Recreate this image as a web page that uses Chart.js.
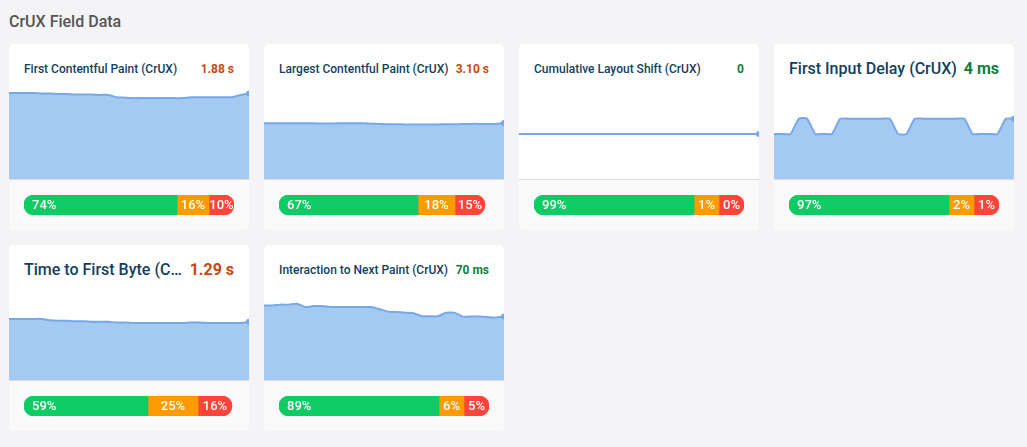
<!DOCTYPE html>
<html lang="en">
<head>
    <meta charset="UTF-8">
    <title>CrUX Field Data</title>
    <script src="https://cdn.jsdelivr.net/npm/chart.js"></script>
    <style>
        html, body { margin: 0; padding: 0; width: 1027px; height: 447px; overflow: hidden; background: #f4f3f6; font-family: Roboto, sans-serif; }
        h1 { position: absolute; left: 9px; top: 12px; margin: 0; font-size: 16px; line-height: 20px; font-weight: 500; color: #555; }
        .card { position: absolute; width: 240px; height: 186px; background: #fff; border-radius: 5px; overflow: hidden; }
        .top { position: absolute; left: 15px; right: 15px; top: 15px; height: 20px; display: flex; justify-content: space-between; align-items: center; line-height: 20px; font-weight: 500; font-size: 12px; white-space: nowrap; }
        .top.big { font-size: 16px; }
        .name { color: #123f5e; }
        .num { font-weight: 700; }
        .line { position: absolute; left: 0; top: 44px; }
        .foot { position: absolute; left: 0; top: 135px; width: 240px; height: 50px; background: #f9f9f9; border-top: 1px solid #ddd; }
        .bar { position: absolute; left: 15px; top: 15px; }
    </style>
</head>
<body>
    <h1>CrUX Field Data</h1>
    <div id="cards"></div>

<script>
    const cardTitles = ['First Contentful Paint (CrUX)', 'Largest Contentful Paint (CrUX)', 'Cumulative Layout Shift (CrUX)', 'First Input Delay (CrUX)', 'Time to First Byte (C…', 'Interaction to Next Paint (CrUX)'];
    const cardValues = ['1.88 s', '3.10 s', '0', '4 ms', '1.29 s', '70 ms'];
    const valueColors = ['#c9470f', '#c9470f', '#0e7f3f', '#0e7f3f', '#c9470f', '#0e7f3f'];

    const days = ['1', '2', '3', '4', '5', '6', '7', '8', '9', '10', '11', '12', '13', '14', '15', '16', '17', '18', '19', '20', '21', '22', '23', '24', '25', '26', '27', '28', '29', '30'];

    const fcp = [1.89, 1.89, 1.89, 1.89, 1.88, 1.88, 1.87, 1.87, 1.86, 1.86, 1.86, 1.85, 1.85, 1.80, 1.79, 1.78, 1.78, 1.78, 1.78, 1.78, 1.78, 1.78, 1.80, 1.80, 1.80, 1.80, 1.80, 1.80, 1.85, 1.88];
    const lcp = [3.08, 3.08, 3.09, 3.09, 3.09, 3.09, 3.08, 3.07, 3.07, 3.08, 3.08, 3.08, 3.08, 3.06, 3.05, 3.03, 3.03, 3.02, 3.02, 3.02, 3.01, 3.02, 3.03, 3.03, 3.04, 3.05, 3.05, 3.05, 3.05, 3.10];
    const cls = [0, 0, 0, 0, 0, 0, 0, 0, 0, 0, 0, 0, 0, 0, 0, 0, 0, 0, 0, 0, 0, 0, 0, 0, 0, 0, 0, 0, 0, 0];
    const fid = [3, 3, 3, 4, 4, 3, 3, 3, 4, 4, 4, 4, 4, 4, 4, 3, 3, 4, 4, 4, 4, 4, 4, 4, 3, 3, 3, 3, 4, 4];
    const ttfb = [1.35, 1.35, 1.35, 1.35, 1.35, 1.32, 1.31, 1.31, 1.30, 1.30, 1.29, 1.29, 1.29, 1.27, 1.27, 1.26, 1.26, 1.26, 1.26, 1.26, 1.26, 1.26, 1.27, 1.27, 1.26, 1.26, 1.26, 1.26, 1.26, 1.29];
    const inp = [82, 82, 83, 83, 84, 80.4, 81.5, 81.5, 80.4, 80.4, 80.4, 80.4, 80.4, 80.4, 78, 75.4, 75, 74.3, 74, 70.7, 70.3, 70.3, 74.3, 74.3, 70, 70, 70, 69.5, 69, 70];

    const lineSeries = [fcp, lcp, cls, fid, ttfb, inp];
    const yMaxes = [2, 5, undefined, 6, 2, 100];

    const goodPct = [74, 67, 99, 97, 59, 89];
    const okPct = [16, 18, 1, 2, 25, 6];
    const poorPct = [10, 15, 0, 1, 16, 5];

    // drawn lengths of the segments, the small ones are wider than their percentage
    const goodLen = [153, 139, 160, 160, 124, 160];
    const okLen = [32, 37, 25, 25, 50, 25];
    const poorLen = [25, 30, 25, 25, 34, 25];

    const cardLeft = [9, 264, 519, 774, 9, 264];
    const cardTop = [44, 44, 44, 44, 245, 245];

    const percentLabels = {
        id: 'percentLabels',
        afterDatasetsDraw(chart) {
            const ctx = chart.ctx;
            ctx.save();
            ctx.font = '500 13px Roboto';
            ctx.fillStyle = '#fff';
            ctx.textBaseline = 'middle';
            chart.data.datasets.forEach((ds, i) => {
                const el = chart.getDatasetMeta(i).data[0];
                if (i === 0) {
                    ctx.textAlign = 'left';
                    ctx.fillText(ds.pct + '%', el.base + 8, el.y + 0.5);
                } else {
                    ctx.textAlign = 'center';
                    ctx.fillText(ds.pct + '%', (el.base + el.x) / 2, el.y + 0.5);
                }
            });
            ctx.restore();
        }
    };

    function criarCard(i) {
        const card = document.createElement('div');
        card.className = 'card';
        card.style.left = cardLeft[i] + 'px';
        card.style.top = cardTop[i] + 'px';
        const big = (i === 3 || i === 4) ? ' big' : '';
        card.innerHTML =
            '<div class="top' + big + '"><span class="name">' + cardTitles[i] + '</span>' +
            '<span class="num" style="color:' + valueColors[i] + '">' + cardValues[i] + '</span></div>' +
            '<canvas class="line" width="240" height="92"></canvas>' +
            '<div class="foot"><canvas class="bar" width="210" height="20"></canvas></div>';
        document.getElementById('cards').appendChild(card);

        const radii = days.map((_, n) => n === days.length - 1 ? 3 : 0);
        new Chart(card.querySelector('.line'), {
            type: 'line',
            data: {
                labels: days,
                datasets: [{
                    data: lineSeries[i],
                    borderColor: '#76a9ea',
                    backgroundColor: '#a5caf2',
                    borderWidth: 2,
                    fill: 'origin',
                    tension: 0.15,
                    pointRadius: radii,
                    pointBackgroundColor: '#76a9ea',
                    pointBorderWidth: 0
                }]
            },
            options: {
                responsive: false,
                animation: false,
                layout: { autoPadding: false },
                plugins: { legend: { display: false }, tooltip: { enabled: false } },
                scales: {
                    x: { display: false, offset: false },
                    y: { display: false, min: yMaxes[i] === undefined ? -1 : 0, max: yMaxes[i] === undefined ? 1 : yMaxes[i] }
                }
            }
        });

        new Chart(card.querySelector('.bar'), {
            type: 'bar',
            data: {
                labels: [''],
                datasets: [
                    { data: [goodLen[i]], pct: goodPct[i], backgroundColor: '#0ecb63', borderSkipped: false, borderRadius: { topLeft: 10, bottomLeft: 10, topRight: 0, bottomRight: 0 } },
                    { data: [okLen[i]], pct: okPct[i], backgroundColor: '#ff9a00', borderSkipped: false, borderRadius: 0 },
                    { data: [poorLen[i]], pct: poorPct[i], backgroundColor: '#ff4539', borderSkipped: false, borderRadius: { topLeft: 0, bottomLeft: 0, topRight: 10, bottomRight: 10 } }
                ]
            },
            options: {
                indexAxis: 'y',
                responsive: false,
                animation: false,
                barPercentage: 1,
                categoryPercentage: 1,
                plugins: { legend: { display: false }, tooltip: { enabled: false } },
                scales: {
                    x: { display: false, stacked: true, min: 0, max: 210 },
                    y: { display: false, stacked: true }
                }
            },
            plugins: [percentLabels]
        });
    }

    for (let i = 0; i < cardTitles.length; i++) {
        criarCard(i);
    }
</script>
</body>
</html>
